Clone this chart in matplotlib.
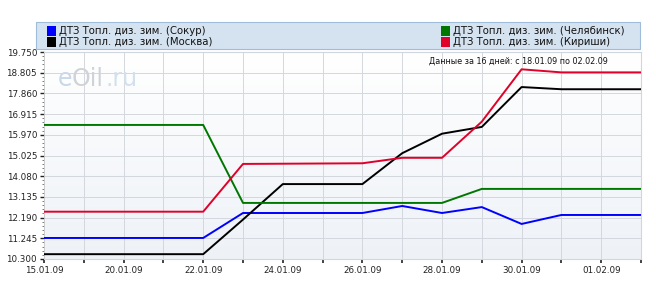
import matplotlib.pyplot as plt
import numpy as np
from matplotlib.patches import Rectangle
from matplotlib.ticker import AutoMinorLocator
from matplotlib.colors import LinearSegmentedColormap

plt.rcParams['font.family'] = ['DejaVu Sans']

dates = ['15.01.09', '', '20.01.09', '', '22.01.09', '', '24.01.09', '',
         '26.01.09', '', '28.01.09', '', '30.01.09', '', '01.02.09', '']
sokur = [11.26, 11.26, 11.26, 11.26, 11.26, 12.40, 12.40, 12.40,
         12.40, 12.72, 12.40, 12.67, 11.90, 12.31, 12.31, 12.31]
moskva = [10.52, 10.52, 10.52, 10.52, 10.52, 12.10, 13.72, 13.72,
          13.72, 15.13, 16.02, 16.33, 18.15, 18.05, 18.05, 18.05]
chelyabinsk = [16.42, 16.42, 16.42, 16.42, 16.42, 12.86, 12.86, 12.86,
               12.86, 12.86, 12.86, 13.50, 13.50, 13.50, 13.50, 13.50]
kirishi = [12.46, 12.46, 12.46, 12.46, 12.46, 14.64, 14.65, 14.66,
           14.67, 14.92, 14.92, 16.57, 18.96, 18.82, 18.82, 18.82]
yticks = [10.300, 11.245, 12.190, 13.135, 14.080, 15.025,
          15.970, 16.915, 17.860, 18.805, 19.750]

series = [
    ('ДТЗ Топл. диз. зим. (Сокур)', sokur, '#0000ff'),
    ('ДТЗ Топл. диз. зим. (Москва)', moskva, '#000000'),
    ('ДТЗ Топл. диз. зим. (Челябинск)', chelyabinsk, '#007700'),
    ('ДТЗ Топл. диз. зим. (Кириши)', kirishi, '#e0002a'),
]

fig = plt.figure(figsize=(6.56, 2.93), dpi=100, facecolor='white')
ax = fig.add_axes([44 / 656, 1 - 259 / 293, 597 / 656, 207 / 293])

x = np.arange(len(dates))

# background gradient
grad = np.linspace(0, 1, 100).reshape(-1, 1)
ax.imshow(grad, extent=[0, 1, 0, 1], transform=ax.transAxes, aspect='auto',
          cmap=LinearSegmentedColormap.from_list('bg', ['#eef2f7', '#ffffff']),
          origin='lower', zorder=0)

for name, vals, color in series:
    ax.plot(x, vals, color=color, lw=1.4, zorder=3)

ax.set_xlim(0, len(dates) - 1)
ax.set_ylim(yticks[0], yticks[-1])
ax.set_xticks(x)
ax.set_xticklabels(dates, fontsize=6.3, color='#222222')
ax.set_yticks(yticks)
ax.set_yticklabels([f'{v:.3f}' for v in yticks], fontsize=6.3, color='#222222')
ax.yaxis.set_minor_locator(AutoMinorLocator(5))
ax.tick_params(axis='x', length=3, width=1.2, color='#222222', pad=2)
ax.tick_params(axis='y', which='major', length=3, width=1, color='#222222', pad=2)
ax.tick_params(axis='y', which='minor', length=1.5, width=0.6, color='#666666')
ax.grid(True, which='major', color='#d4d8de', lw=0.7, zorder=1)
ax.set_axisbelow(True)
for s in ['top', 'right', 'bottom']:
    ax.spines[s].set_color('#d0d6de')
    ax.spines[s].set_linewidth(0.8)
ax.spines['left'].set_color('#cccccc')
ax.spines['left'].set_linewidth(0.6)

# watermark
ax.text(0.023, 0.87, 'e', transform=ax.transAxes, fontsize=17,
        color='#c9d8e8', ha='left', va='center', zorder=2)
ax.text(0.047, 0.87, 'Oil', transform=ax.transAxes, fontsize=17,
        color='#cfd3d8', ha='left', va='center', zorder=2)
ax.text(0.103, 0.87, '.ru', transform=ax.transAxes, fontsize=17,
        color='#d3e0ed', ha='left', va='center', zorder=2)

ax.text(0.795, 0.955, 'Данные за 16 дней: с 18.01.09 по 02.02.09',
        transform=ax.transAxes, fontsize=5.8, color='#111111',
        ha='center', va='center', zorder=4)

# legend box
fig.patches.append(Rectangle((36 / 656, 1 - 49 / 293), 604 / 656, 27 / 293,
                             transform=fig.transFigure, facecolor='#d5e3f1',
                             edgecolor='#9fbcd8', lw=0.8))
pos = [(47, 31), (47, 42), (441, 31), (441, 42)]
for (name, vals, color), (px, py) in zip(series, pos):
    fig.patches.append(Rectangle((px / 656, 1 - (py + 5) / 293), 9 / 656, 10 / 293,
                                 transform=fig.transFigure, facecolor=color,
                                 edgecolor='none'))
    fig.text((px + 12) / 656, 1 - py / 293, name, fontsize=7.3,
             color='#111111', ha='left', va='center')

fig.savefig('out.png', dpi=100)
